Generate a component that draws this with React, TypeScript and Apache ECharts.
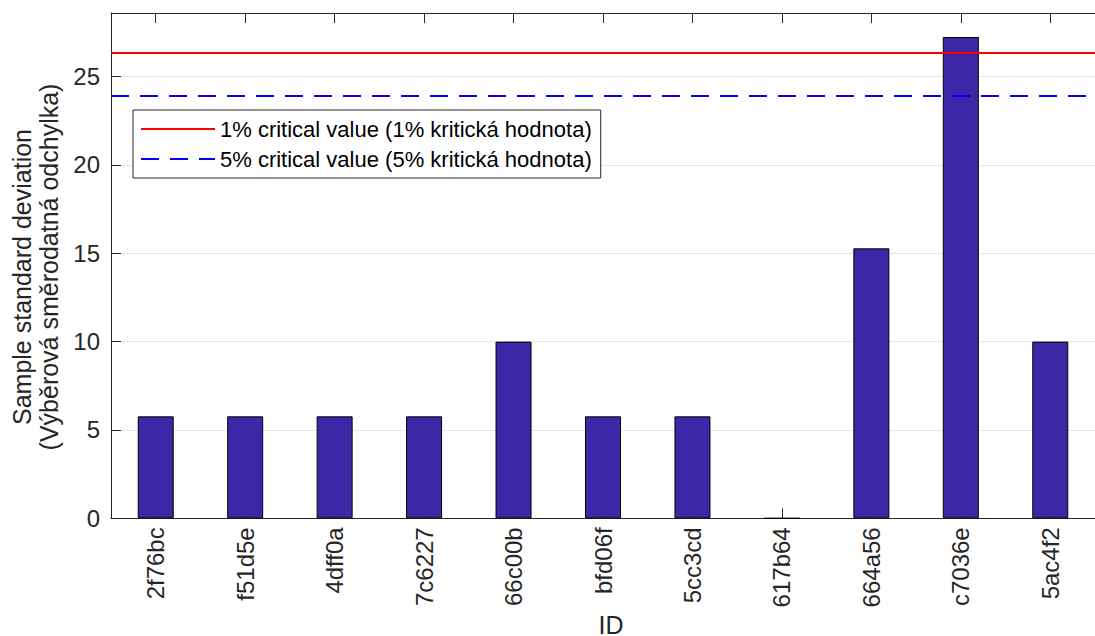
import React, { useEffect, useRef } from "react";
import * as echarts from "echarts";

const categories = ["2f76bc", "f51d5e", "4dff0a", "7c6227", "66c00b", "bfd06f", "5cc3cd", "617b64", "664a56", "c7036e", "5ac4f2"];
const stdDevValues = [5.77, 5.77, 5.77, 5.77, 10, 5.77, 5.77, 0, 15.28, 27.24, 10];
const criticalValue1 = 26.36;
const criticalValue5 = 23.93;
const legendNames = ["1% critical value (1% kritická hodnota)", "5% critical value (5% kritická hodnota)"];
const yMin = 0;
const yMax = 28.6;
const yInterval = 5;
const yTitleLines = ["Sample standard deviation", "(Výběrová směrodatná odchylka)"];
const xTitle = "ID";

const FONT = "'Liberation Sans', Arial, Helvetica, sans-serif";
const AX = "#262626";

export default function App() {
  const ref = useRef<HTMLDivElement>(null);
  useEffect(() => {
    if (!ref.current) return;
    const chart = echarts.init(ref.current, undefined, { renderer: "svg" });
    chart.setOption({
      animation: false,
      textStyle: { fontFamily: FONT },
      grid: { left: 111, top: 13, width: 997, height: 505.3, containLabel: false },
      legend: {
        orient: "vertical",
        left: 133,
        top: 110,
        padding: [8, 9, 8, 7],
        itemWidth: 74,
        itemHeight: 14,
        itemGap: 8,
        backgroundColor: "#ffffff",
        borderColor: AX,
        borderWidth: 1,
        borderRadius: 0,
        itemStyle: { opacity: 0 },
        textStyle: { fontSize: 22, color: "#000", fontFamily: FONT },
        data: legendNames,
      },
      xAxis: [
        {
          type: "category",
          data: categories,
          position: "bottom",
          axisLine: { show: true, lineStyle: { color: AX, width: 1 } },
          axisTick: { show: true, inside: true, length: 10, alignWithLabel: true, lineStyle: { color: AX } },
          axisLabel: { rotate: 90, margin: 9, fontSize: 24, color: AX, fontFamily: FONT },
          splitLine: { show: false },
        },
        {
          type: "category",
          data: categories,
          position: "top",
          axisLine: { show: true, lineStyle: { color: AX, width: 1 } },
          axisTick: { show: true, inside: true, length: 10, alignWithLabel: true, lineStyle: { color: AX } },
          axisLabel: { show: false },
          splitLine: { show: false },
        },
      ],
      yAxis: {
        type: "value",
        min: yMin,
        max: yMax,
        interval: yInterval,
        axisLine: { show: true, lineStyle: { color: AX, width: 1 } },
        axisTick: { show: true, inside: true, length: 10, lineStyle: { color: AX } },
        axisLabel: { margin: 11, fontSize: 24, color: AX, fontFamily: FONT, showMaxLabel: false },
        splitLine: { show: true, lineStyle: { color: "#e6e6e6", width: 1 } },
      },
      series: [
        {
          type: "bar",
          name: "std",
          data: stdDevValues,
          barWidth: 36,
          itemStyle: { color: "#3c28a6", borderColor: "#000000", borderWidth: 1 },
          z: 2,
        },
        {
          type: "line",
          name: legendNames[0],
          data: [],
          symbol: "none",
          lineStyle: { color: "#ff0000", width: 2, type: "solid" },
          itemStyle: { color: "#ff0000" },
          z: 5,
          markLine: {
            silent: true,
            symbol: ["none", "none"],
            label: { show: false },
            lineStyle: { color: "#ff0000", width: 2, type: "solid" },
            data: [{ yAxis: criticalValue1 }],
          },
        },
        {
          type: "line",
          name: legendNames[1],
          data: [],
          symbol: "none",
          lineStyle: { color: "#0000ff", width: 2, type: [18, 11] },
          itemStyle: { color: "#0000ff" },
          z: 5,
          markLine: {
            silent: true,
            symbol: ["none", "none"],
            label: { show: false },
            lineStyle: { color: "#0000ff", width: 2, type: [18, 11] },
            data: [{ yAxis: criticalValue5 }],
          },
        },
      ],
      graphic: [
        {
          type: "text",
          x: 22,
          y: 277,
          rotation: Math.PI / 2,
          style: { text: yTitleLines[0], fontSize: 25, fontFamily: FONT, fill: AX, textAlign: "center", textVerticalAlign: "middle" },
        },
        {
          type: "text",
          x: 49,
          y: 267,
          rotation: Math.PI / 2,
          style: { text: yTitleLines[1], fontSize: 25, fontFamily: FONT, fill: AX, textAlign: "center", textVerticalAlign: "middle" },
        },
        {
          type: "text",
          x: 611,
          y: 625,
          style: { text: xTitle, fontSize: 25, fontFamily: FONT, fill: AX, textAlign: "center", textVerticalAlign: "middle" },
        },
      ],
    });
    return () => chart.dispose();
  }, []);
  return <div ref={ref} style={{ position: "fixed", left: 0, top: 0, width: 1095, height: 636, background: "#fff" }} />;
}
